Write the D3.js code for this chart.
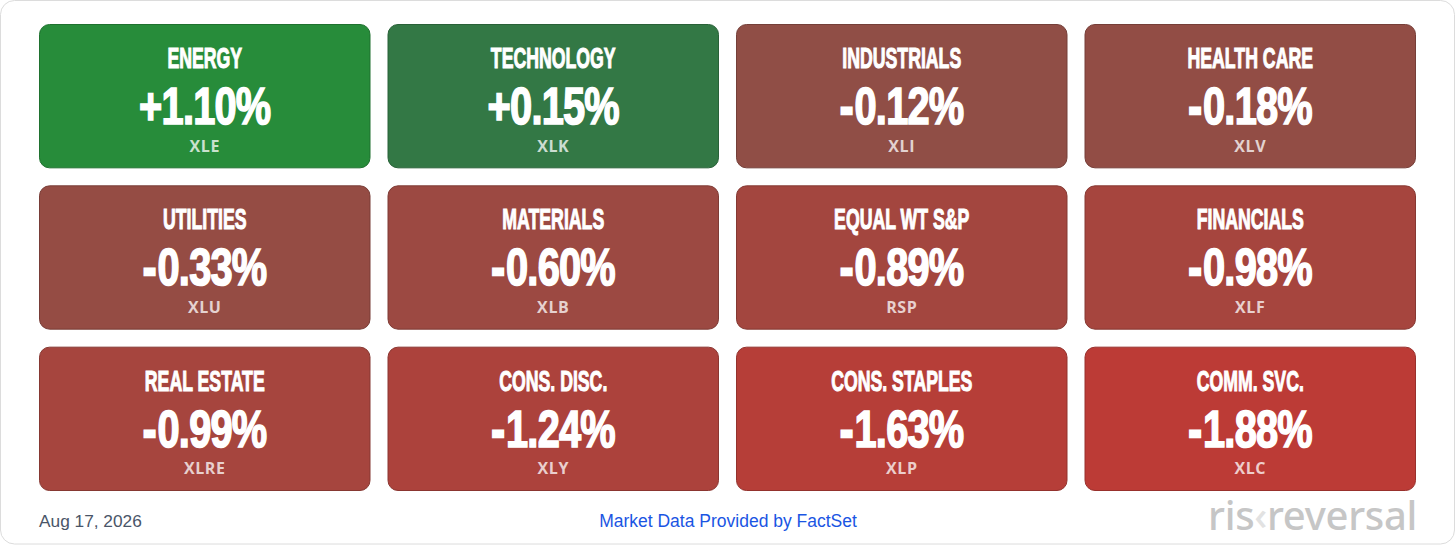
<!DOCTYPE html>
<html>
<head>
<meta charset="utf-8">
<script src="https://cdn.jsdelivr.net/npm/d3@7"></script>
<style>
  html, body { margin: 0; padding: 0; background: #ffffff; }
  svg { display: block; }
</style>
</head>
<body>
<svg id="chart" width="1456" height="546"></svg>
<script>
// ---- DATA ----
const sectors = ["ENERGY", "TECHNOLOGY", "INDUSTRIALS", "HEALTH CARE",
                 "UTILITIES", "MATERIALS", "EQUAL WT S&P", "FINANCIALS",
                 "REAL ESTATE", "CONS. DISC.", "CONS. STAPLES", "COMM. SVC."];
const changes = [1.10, 0.15, -0.12, -0.18, -0.33, -0.60, -0.89, -0.98, -0.99, -1.24, -1.63, -1.88];
const tickers = ["XLE", "XLK", "XLI", "XLV", "XLU", "XLB", "RSP", "XLF", "XLRE", "XLY", "XLP", "XLC"];
const dateLabel = "Aug 17, 2026";
const sourceLabel = "Market Data Provided by FactSet";

const W = 1456, H = 546;
const svg = d3.select("#chart");

// outer card
svg.append("rect")
  .attr("x", 0.5).attr("y", 0.5)
  .attr("width", W - 2).attr("height", H - 2.5)
  .attr("rx", 14).attr("fill", "#ffffff")
  .attr("stroke", "#dcdcdc").attr("stroke-width", 1);

const nCols = 4;
const cols = d3.range(nCols);
const rows = d3.range(Math.ceil(sectors.length / nCols));

const x = d3.scaleBand().domain(cols).range([39, 1416]).paddingInner(17 / 348.5).paddingOuter(0);
const y = d3.scaleBand().domain(rows).range([24, 491]).paddingInner(17 / 161.3).paddingOuter(0);

const redScale = d3.scaleLinear().domain([0, -2]).range(["#8d4f47", "#bf3a35"]).clamp(true);
const greenScale = d3.scaleLinear().domain([0, 1.1]).range(["#357547", "#278c3a"]).clamp(true);
const colorOf = v => v >= 0 ? greenScale(v) : redScale(v);

const data = sectors.map((s, i) => ({ name: s, value: changes[i], ticker: tickers[i], col: i % nCols, row: Math.floor(i / nCols) }));

const sign = v => (v > 0 ? "+" : v < 0 ? "-" : "");
const body = v => Math.abs(v).toFixed(2) + "%";

const tiles = svg.selectAll("g.tile").data(data).join("g")
  .attr("class", "tile")
  .attr("transform", d => `translate(${x(d.col)},${y(d.row)})`);

const bw = x.bandwidth(), bh = y.bandwidth();

tiles.append("rect")
  .attr("x", 0.5).attr("y", 0.5)
  .attr("width", bw - 1).attr("height", bh - 1)
  .attr("rx", 10)
  .attr("fill", d => colorOf(d.value))
  .attr("stroke", d => d3.color(colorOf(d.value)).darker(0.6))
  .attr("stroke-width", 1);

// title
tiles.append("text")
  .attr("transform", `translate(${bw / 2},44) scale(0.6,1)`)
  .attr("text-anchor", "middle")
  .attr("font-family", "'Liberation Sans', Arial, sans-serif")
  .attr("font-weight", 700)
  .attr("font-size", 29.5)
  .attr("fill", "#ffffff")
  .attr("stroke", "#ffffff").attr("stroke-width", 1.1)
  .text(d => d.name);

// value
const val = tiles.append("text")
  .attr("transform", `translate(${bw / 2},100) scale(0.78,1)`)
  .attr("text-anchor", "middle")
  .attr("font-family", "'Liberation Sans', Arial, sans-serif")
  .attr("font-weight", 700)
  .attr("font-size", 51)
  .attr("fill", "#ffffff")
  .attr("stroke", "#ffffff").attr("stroke-width", 1.6)
  .attr("letter-spacing", -1);
val.append("tspan")
  .attr("letter-spacing", d => d.value < 0 ? 1.5 : -1)
  .attr("stroke-width", d => d.value < 0 ? 2.6 : 1.6)
  .text(d => sign(d.value));
val.append("tspan").text(d => body(d.value));

// ticker
tiles.append("text")
  .attr("x", bw / 2).attr("y", 127.5)
  .attr("text-anchor", "middle")
  .attr("font-family", "'Open Sans', sans-serif")
  .attr("font-weight", 700)
  .attr("font-size", 16)
  .attr("letter-spacing", 0.6)
  .attr("fill", "rgba(255,255,255,0.75)")
  .text(d => d.ticker);

// footer
svg.append("text")
  .attr("x", 39).attr("y", 527)
  .attr("font-family", "'Liberation Sans', Arial, sans-serif")
  .attr("font-size", 17.3)
  .attr("fill", "#4a5568")
  .text(dateLabel);

svg.append("text")
  .attr("x", 728).attr("y", 527)
  .attr("text-anchor", "middle")
  .attr("font-family", "'Liberation Sans', Arial, sans-serif")
  .attr("font-size", 17.5)
  .attr("fill", "#1a55e3")
  .text(sourceLabel);

// logo
const logo = svg.append("text")
  .attr("x", 1417).attr("y", 530)
  .attr("text-anchor", "end")
  .attr("font-family", "'Noto Sans', 'Open Sans', sans-serif")
  .attr("font-weight", 500)
  .attr("font-size", 40)
  .attr("letter-spacing", -0.3)
  .attr("fill", "#c6c6c6");
logo.append("tspan").text("ris");
logo.append("tspan").attr("fill", "#e2e2e2").text("‹");
logo.append("tspan").text("reversal");
</script>
</body>
</html>
